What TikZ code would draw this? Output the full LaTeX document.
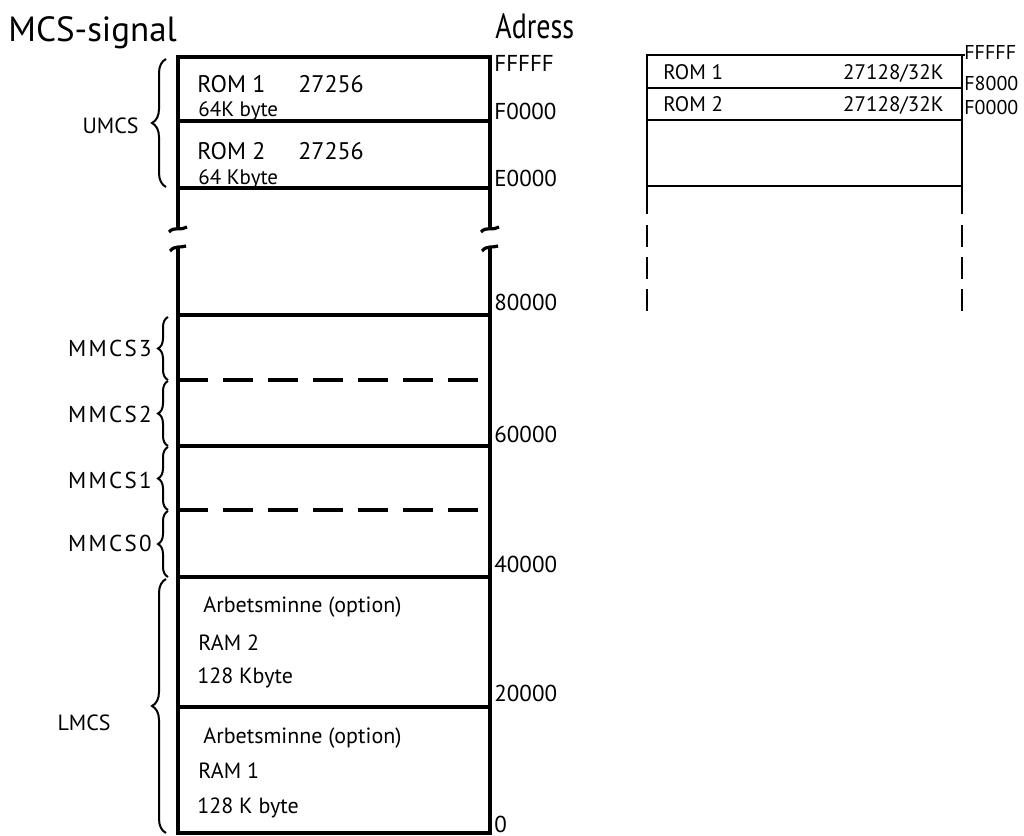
\documentclass[tikz,border=0pt]{standalone}
\usepackage{fontspec}
\setmainfont{PT Sans}
\usetikzlibrary{decorations.pathreplacing}

\tikzset{
  memline/.style={line width=1.6pt},
  memdash/.style={line width=1.6pt, dash pattern=on 15pt off 7.5pt},
  romline/.style={line width=1.2pt},
  romdash/.style={line width=1.2pt, dash pattern=on 11pt off 5pt},
  sigbrace/.style={decorate, decoration={brace, amplitude=5pt}, line width=1pt},
  headtxt/.style={anchor=base west, inner sep=0pt, font=\fontsize{17.5}{19}\selectfont},
  romtxt/.style={anchor=base west, inner sep=0pt, font=\fontsize{12}{14}\selectfont},
  subtxt/.style={anchor=base west, inner sep=0pt, font=\fontsize{10.5}{12}\selectfont},
  ramtxt/.style={anchor=base west, inner sep=0pt, font=\fontsize{11}{13}\selectfont},
  adrtxt/.style={anchor=base west, inner sep=0pt, font=\fontsize{11.5}{13}\selectfont},
  sigtxt/.style={anchor=base east, inner sep=0pt, font=\fontsize{11}{13}\selectfont},
  mmcstxt/.style={sigtxt, font=\fontsize{11.5}{13}\selectfont\addfontfeature{LetterSpace=10}},
  smalltxt/.style={anchor=base west, inner sep=0pt, font=\fontsize{10.5}{12}\selectfont},
  smalladr/.style={anchor=base west, inner sep=0pt, font=\fontsize{10}{12}\selectfont},
}

\begin{document}
\begin{tikzpicture}[x=0.5pt, y=-0.5pt]
  % --- page: one pixel of the scan is half a point ---
  \useasboundingbox (0,0) rectangle (1024,836);
  \def\xl{178}\def\xr{490}
  \def\xa{647}\def\xb{962}

  % Headings
  \node[headtxt] (mcs) at (8,41) {MCS-signal};
  \node[headtxt] (adress) at (495,38) {\scalebox{0.8}[1]{Adress}};

  % Upper part of the memory map (ROM)
  \draw[memline] (\xl,228) -- (\xl,57) -- (\xr,57) -- (\xr,228);
  \draw[memline] (\xl,121) -- (\xr,121);
  \draw[memline] (\xl,188) -- (\xr,188);

  % Break marks
  \foreach \x in {\xl,\xr} {
    \draw[memline] (\x-9,232) .. controls (\x-4,226) and (\x+3,231) .. (\x+9,227);
    \draw[memline] (\x-8,251) .. controls (\x-3,245) and (\x+3,248) .. (\x+8,246);
  }

  % Lower part of the memory map
  \draw[memline] (\xl,248) -- (\xl,833) -- (\xr,833) -- (\xr,248);
  \foreach \y in {315,446,577,707}
    \draw[memline] (\xl,\y) -- (\xr,\y);
  \foreach \y in {380,510}
    \draw[memdash] (\xl,\y) -- (\xr,\y);

  % ROM texts
  \node[romtxt] (rom1) at (197,92) {ROM 1};
  \node[romtxt] (rom1typ) at (298,92) {27256};
  \node[subtxt] (rom1size) at (198,116) {64K byte};
  \node[romtxt] (rom2) at (197,159) {ROM 2};
  \node[romtxt] (rom2typ) at (298,159) {27256};
  \node[subtxt] (rom2size) at (198,184) {64 Kbyte};

  % RAM texts
  \node[ramtxt] (ram2opt) at (203,612) {Arbetsminne (option)};
  \node[ramtxt] (ram2) at (198,650) {RAM 2};
  \node[ramtxt] (ram2size) at (197,683) {128 Kbyte};
  \node[ramtxt] (ram1opt) at (203,743) {Arbetsminne (option)};
  \node[ramtxt] (ram1) at (198,778) {RAM 1};
  \node[ramtxt] (ram1size) at (197,813) {128 K byte};

  % Addresses
  \foreach \y/\a in {71/FFFFF,119/F0000,186/E0000,310/80000,442/60000,572/40000,701/20000,832/0}
    \node[adrtxt] (adr\a) at (494,\y) {\a};

  % Chip select braces
  \draw[sigbrace, decoration={amplitude=7pt}] (166,187) -- (166,59);
  \draw[sigbrace] (168,380) -- (168,317);
  \draw[sigbrace] (168,446) -- (168,381);
  \draw[sigbrace] (168,510) -- (168,447);
  \draw[sigbrace] (168,577) -- (168,511);
  \draw[sigbrace, decoration={amplitude=7pt}] (166,833) -- (166,579);
  \node[sigtxt] (umcs) at (139,133) {UMCS};
  \foreach \y/\s in {356/3,422/2,488/1,551/0}
    \node[mmcstxt] (mmcs\s) at (152,\y) {MMCS\s};
  \node[sigtxt] (lmcs) at (111,730) {LMCS};

  % --- Small map with 32K ROMs ---
  \draw[romline] (\xa,214) -- (\xa,55) -- (\xb+3,55);
  \draw[romline] (\xb,55) -- (\xb,214);
  \foreach \y in {88,120,186}
    \draw[romline] (\xa,\y) -- (\xb,\y);
  \foreach \x in {\xa,\xb}
    \draw[romdash] (\x,225) -- (\x,311);

  \node[smalltxt] (srom1) at (663,79) {ROM 1};
  \node[smalltxt, anchor=base east] (srom1typ) at (944,79) {27128/32K};
  \node[smalltxt] (srom2) at (663,111) {ROM 2};
  \node[smalltxt, anchor=base east] (srom2typ) at (944,111) {27128/32K};
  \foreach \y/\a in {59/FFFFF,90/F8000,114/F0000}
    \node[smalladr] (sadr\a) at (964,\y) {\a};
\end{tikzpicture}
\end{document}
